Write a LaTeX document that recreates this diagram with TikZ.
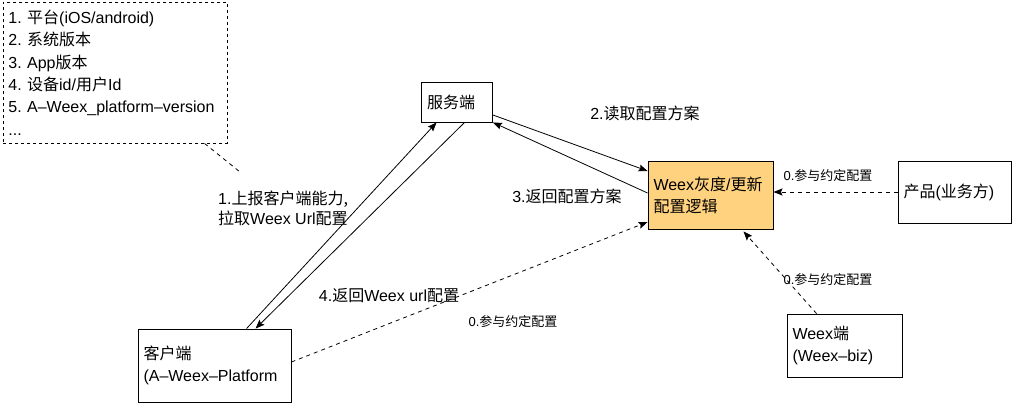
\documentclass[tikz,border=0pt]{standalone}
\usepackage{fontspec}
\setmainfont{Liberation Sans}
\newfontfamily\cjk{Noto Sans CJK SC}
\newcommand{\zh}[1]{{\cjk #1}}
\usetikzlibrary{arrows.meta,calc}
\definecolor{logicfill}{HTML}{FFD27F}
\frenchspacing
\begin{document}
\begin{tikzpicture}[x=1pt,y=-1pt,
  box/.style={draw, line width=0.9pt, rectangle, inner xsep=5.5pt, inner ysep=0pt,
    align=left, font=\fontsize{16}{22}\selectfont, anchor=center},
  lbl/.style={inner sep=0pt, font=\fontsize{16}{20}\selectfont, align=left},
  small/.style={inner sep=0pt, font=\fontsize{13}{16}\selectfont},
  arr/.style={line width=0.8pt, -{Stealth[length=9pt,width=7pt,inset=1.5pt]}},
  darr/.style={arr, dash pattern=on 4pt off 4pt},
  dline/.style={line width=0.8pt, dash pattern=on 4pt off 4pt}]
\useasboundingbox (0,0) rectangle (1014,405);

\node[box, dash pattern=on 3pt off 3pt, minimum width=224pt, minimum height=141pt, text width=213pt, inner xsep=4pt, font=\fontsize{16}{22.4}\selectfont\frenchspacing] (note) at (115,72.5)
  {1. \zh{平台}(iOS/android)\\2. \zh{系统版本}\\3. App\zh{版本}\\4. \zh{设备}id/\zh{用户}Id\\5. A–Weex\_platform–version\\...};

\node[box, minimum width=71pt, minimum height=40pt, text width=60pt] (server) at (457,102) {\zh{服务端}};
\node[box, fill=logicfill, minimum width=125pt, minimum height=68pt, text width=114pt] (logic) at (710.5,195) {Weex\zh{灰度}/\zh{更新}\\\zh{配置逻辑}};
\node[box, minimum width=113pt, minimum height=62pt, text width=102pt] (product) at (954.5,192) {\zh{产品}(\zh{业务方})};
\node[box, minimum width=115pt, minimum height=63pt, text width=104pt] (weexend) at (844.5,345.5) {Weex\zh{端}\\(Weex–biz)};
\node[box, minimum width=153pt, minimum height=73pt, text width=142pt] (client) at (214.5,365.5) {\zh{客户端}\\(A–Weex–Platform};

\coordinate (callout) at (240,172);
\draw[dline] ([xshift=202pt]note.south west) -- (callout);

\draw[arr] ([xshift=109pt]client.north west) -- ([xshift=15.5pt]server.south west);
\draw[arr] ([xshift=43.5pt]server.south west) -- ([xshift=118pt]client.north west);
\draw[arr] ([yshift=-13pt]server.east) -- ([yshift=24pt]logic.west);
\draw[arr] ([yshift=2pt]logic.west) -- (server.south east);
\draw[darr] ([yshift=3.5pt]client.east) -- ([yshift=-27pt]logic.west);
\draw[darr] (product.west) -- (logic.east |- product.west);
\draw[darr] ([xshift=30pt]weexend.north west) -- ([xshift=33pt,yshift=-2pt]logic.south);

\node[lbl] (l2) at (645,113) {2.\zh{读取配置方案}};
\node[lbl] (l3) at (567,196) {3.\zh{返回配置方案}};
\node[lbl, anchor=west] (l1) at (218,208) {1.\zh{上报客户端能力}{\cjk ,}\\\zh{拉取}Weex Url\zh{配置}};
\node[lbl] (l4) at (389,296) {4.\zh{返回}Weex url\zh{配置}};
\node[small] (s1) at (513,322) {0.\zh{参与约定配置}};
\node[small] (s2) at (828,176) {0.\zh{参与约定配置}};
\node[small] (s3) at (828,280) {0.\zh{参与约定配置}};
\end{tikzpicture}
\end{document}
